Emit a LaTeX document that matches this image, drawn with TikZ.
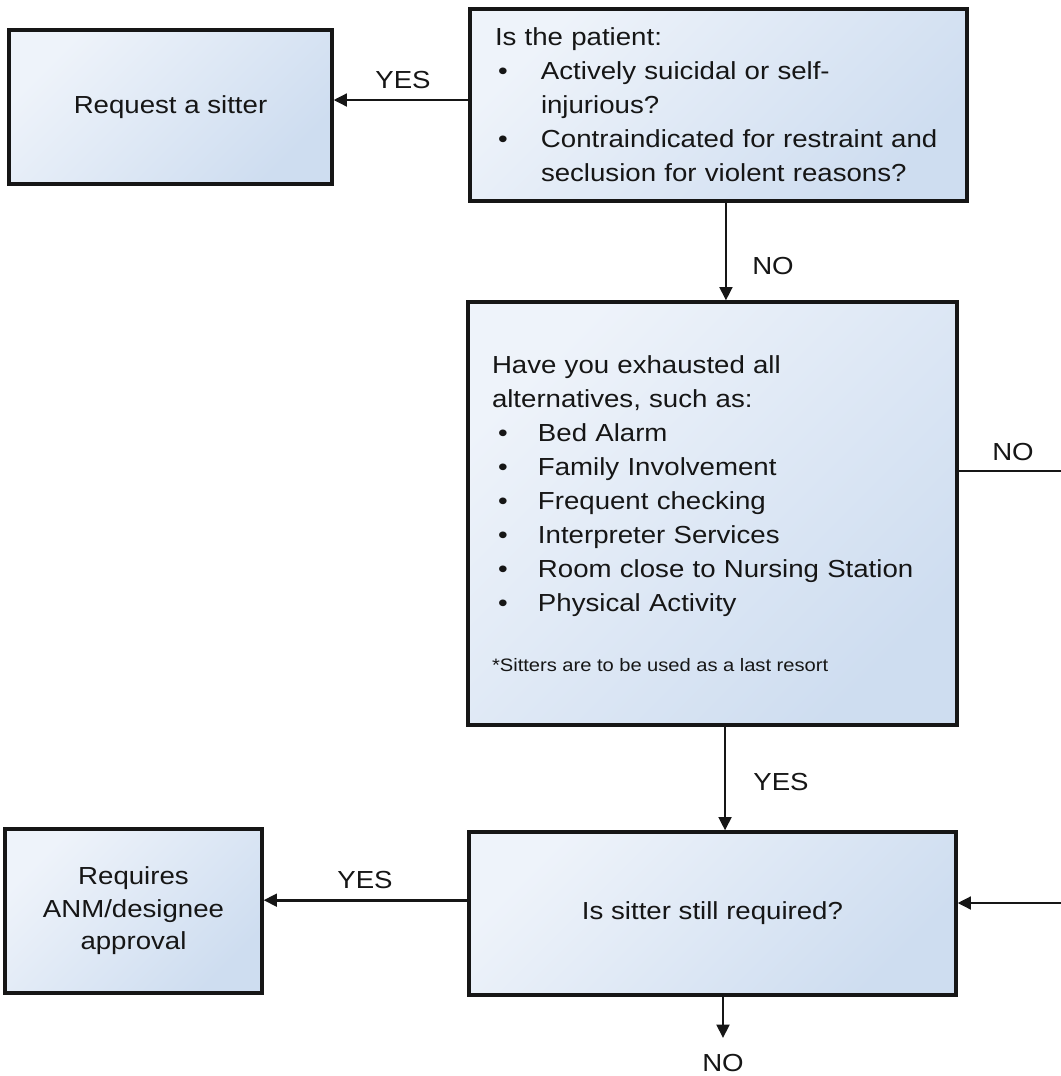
\documentclass[tikz,border=0pt]{standalone}
\usepackage{fontspec}
\setmainfont{Liberation Sans}[FakeStretch=1.12]
\usetikzlibrary{arrows.meta}
\definecolor{bl1}{RGB}{238,243,250}
\definecolor{bl2}{RGB}{206,221,240}
\definecolor{ink}{RGB}{22,22,22}
\newcommand{\bul}[1]{\hspace*{#1}\makebox[\dimexpr34.5pt-#1\relax][l]{\textbullet}}
\newcommand{\ind}{\hspace*{34.5pt}}
\tikzset{
  box/.style={draw=ink, line width=2.4pt, top color=bl1, bottom color=bl2, shading angle=45,
    text=ink, inner ysep=0pt, font=\fontsize{18.5}{25.5}\selectfont},
  conn/.style={draw=ink, line width=2.1pt, -{Triangle[length=10pt,width=9.5pt]}},
  plain/.style={draw=ink, line width=2.1pt},
  lab/.style={text=ink, font=\fontsize{18.5}{25.5}\selectfont, inner sep=0pt}
}
\begin{document}
\begin{tikzpicture}[x=0.75pt,y=-0.75pt]
\useasboundingbox (0,0) rectangle (1061,1076);

% boxes
\node[box, minimum width=242.25pt, minimum height=115.5pt, align=center] (req) at (170.5,107) {Request a sitter};

\node[box, text width=335.25pt, inner xsep=18.75pt, minimum height=144pt, align=left] (qB) at (718.5,105)
{Is the patient:\\
\bul{2.25pt}Actively suicidal or self-\\
\ind injurious?\\
\bul{2.25pt}Contraindicated for restraint and\\
\ind seclusion for violent reasons?};

\node[box, text width=330.75pt, inner xsep=18pt, minimum height=317.25pt, align=left] (qC) at (712.5,513.5)
{Have you exhausted all\\
alternatives, such as:\\
\bul{4.5pt}Bed Alarm\\
\bul{4.5pt}Family Involvement\\
\bul{4.5pt}Frequent checking\\
\bul{4.5pt}Interpreter Services\\
\bul{4.5pt}Room close to Nursing Station\\
\bul{4.5pt}Physical Activity\\[20pt]
{\fontsize{13.5}{25.5}\selectfont\spaceskip=4.1pt\relax\mbox{*Sitters are to be used as a last resort}}};

\node[box, minimum width=365.25pt, minimum height=122.25pt, align=center] (qD) at (712.5,913.5) {Is sitter still required?};

\node[box, minimum width=192.75pt, minimum height=123pt, align=center, font=\fontsize{18.5}{24.4}\selectfont] (qE) at (133.5,911)
{Requires\\ANM/designee\\approval};

% free ends
\coordinate (rtop) at (1061,471);
\coordinate (rbot) at (1061,903);
\coordinate (endno) at (723,1038);

% connectors
\draw[conn] ([yshift=3.75pt]qB.west) -- ([yshift=3.75pt]qB.west -| req.east);
\draw[conn] ([xshift=5.6pt]qB.south) -- ([xshift=5.6pt]qB.south |- qC.north);
\draw[conn] ([xshift=9.4pt]qC.south) -- ([xshift=9.4pt]qC.south |- qD.north);
\draw[plain] (qC.east |- rtop) -- (rtop);
\draw[conn] (rbot) -- (rbot -| qD.east);
\draw[conn] ([yshift=10pt]qD.west) -- ([yshift=10pt]qD.west -| qE.east);
\draw[conn] (qD.south -| endno) -- (endno);

% labels
\node[lab] (yes1) at (403,80) {YES};
\node[lab] (no1) at (773,266) {NO};
\node[lab] (yes2) at (781,782) {YES};
\node[lab] (no2) at (1013,452) {NO};
\node[lab] (yes3) at (365,880) {YES};
\node[lab] (no3) at (723,1063) {NO};
\end{tikzpicture}
\end{document}
